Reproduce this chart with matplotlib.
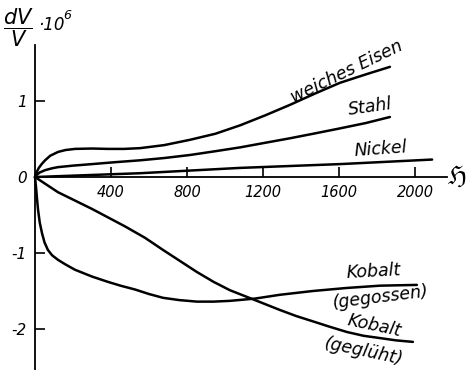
import numpy as np
import matplotlib.pyplot as plt

plt.rcParams['font.family'] = ['DejaVu Sans']
plt.rcParams['mathtext.fontset'] = 'dejavusans'
plt.rcParams['mathtext.default'] = 'it'

# field strength H and volume change dV/V * 10^6
H_eisen = [0, 10, 20, 35, 53, 80, 121, 160, 210, 300, 384, 470, 553, 680, 816, 950,
           1079, 1210, 1342, 1475, 1605, 1740, 1868]
dv_eisen = [0, 0.07, 0.12, 0.17, 0.22, 0.28, 0.33, 0.355, 0.37, 0.375, 0.37, 0.37, 0.38,
            0.42, 0.49, 0.57, 0.68, 0.81, 0.95, 1.10, 1.24, 1.35, 1.45]

H_stahl = [0, 10, 25, 53, 90, 121, 200, 300, 420, 553, 680, 816, 950, 1079, 1210, 1342,
           1475, 1605, 1740, 1868]
dv_stahl = [0, 0.03, 0.06, 0.09, 0.115, 0.13, 0.15, 0.17, 0.195, 0.22, 0.25, 0.29, 0.34,
            0.39, 0.45, 0.51, 0.575, 0.64, 0.71, 0.79]

H_nickel = [0, 553, 1079, 1605, 2010, 2090]
dv_nickel = [0, 0.05, 0.12, 0.17, 0.22, 0.23]

H_co_guss = [0, 5, 10, 16, 25, 37, 50, 68, 90, 121, 160, 210, 300, 384, 450, 526, 600,
             674, 760, 852, 940, 1026, 1158, 1289, 1463, 1642, 1816, 2010]
dv_co_guss = [0, -0.12, -0.27, -0.43, -0.60, -0.74, -0.86, -0.96, -1.03, -1.09, -1.15,
              -1.22, -1.31, -1.38, -1.43, -1.48, -1.54, -1.59, -1.62, -1.64, -1.64, -1.63,
              -1.60, -1.55, -1.50, -1.46, -1.43, -1.42]

H_co_glueh = [0, 121, 300, 474, 579, 674, 760, 852, 940, 1026, 1158, 1289, 1375, 1463,
              1550, 1642, 1730, 1816, 1900, 1989]
dv_co_glueh = [0, -0.20, -0.42, -0.65, -0.80, -0.96, -1.10, -1.25, -1.38, -1.49, -1.62,
               -1.75, -1.83, -1.90, -1.97, -2.04, -2.09, -2.12, -2.15, -2.17]

x_ticks = [400, 800, 1200, 1600, 2000]
y_ticks = [-2, -1, 0, 1]
y_tick_labels = ['-2', '-1', '0', '1']

fig = plt.figure(figsize=(4.7, 3.7), dpi=100)
ax = fig.add_axes([0, 0, 1, 1])
ax.set_xlim(-184.2, 2289.5)
ax.set_ylim(-2.54, 2.33)

lw = 1.8
for H, dv in [(H_eisen, dv_eisen), (H_stahl, dv_stahl), (H_nickel, dv_nickel),
              (H_co_guss, dv_co_guss), (H_co_glueh, dv_co_glueh)]:
    ax.plot(H, dv, color='black', lw=lw, solid_capstyle='round', solid_joinstyle='round')

# axes through the origin
for s in ['top', 'right']:
    ax.spines[s].set_visible(False)
ax.spines['left'].set_position(('data', 0))
ax.spines['bottom'].set_position(('data', 0))
ax.spines['left'].set_bounds(-2.54, 1.74)
ax.spines['bottom'].set_bounds(0, 2168)
ax.spines['left'].set_linewidth(1.3)
ax.spines['bottom'].set_linewidth(1.3)

ax.set_xticks(x_ticks)
ax.set_xticklabels([str(v) for v in x_ticks], fontstyle='italic', fontsize=10.5)
ax.set_yticks(y_ticks)
ax.set_yticklabels(y_tick_labels, fontstyle='italic', fontsize=11)
ax.tick_params(axis='both', direction='in', length=7, width=1.2, pad=6)

txt = dict(fontstyle='italic', fontsize=12.5, ha='center', va='center')
ax.text(1642, 1.38, 'weiches Eisen', rotation=26, **txt)
ax.text(1763, 0.92, 'Stahl', rotation=8, **txt)
ax.text(1821, 0.37, 'Nickel', rotation=4, **txt)
ax.text(1784, -1.24, 'Kobalt', rotation=3, **txt)
ax.text(1821, -1.58, '(gegossen)', rotation=7, **txt)
ax.text(1784, -1.96, 'Kobalt', rotation=-12, **txt)
ax.text(1732, -2.30, '(geglüht)', rotation=-12, **txt)

ax.text(2225, 0.0, 'ℌ', fontsize=18, ha='center', va='center', fontstyle='italic')
ax.text(-170, 1.97, r'$\dfrac{dV}{V}$', fontsize=15, ha='left', va='center')
ax.text(18, 2.0, '·10', fontsize=12, fontstyle='italic', ha='left', va='center')
ax.text(150, 2.12, '6', fontsize=9, fontstyle='italic', ha='left', va='center')

fig.savefig('out.png', dpi=100)
